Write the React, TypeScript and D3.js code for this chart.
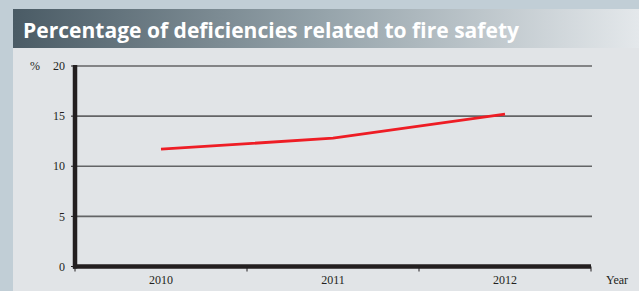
import * as d3 from 'd3';

const years = ['2010', '2011', '2012'];
const percentages = [11.7, 12.8, 15.2];
const yTicks = [0, 5, 10, 15, 20];

const W = 639;
const H = 291;
const margin = { left: 75, right: 48, top: 66, bottom: 24.5 };
const serif = "'Liberation Serif', 'Times New Roman', serif";

const App = () => {
  const x = d3.scaleBand().domain(years).range([margin.left, W - margin.right]).padding(0);
  const y = d3.scaleLinear().domain([0, 20]).range([H - margin.bottom, margin.top]);

  const line = d3.line<number>()
    .x((_, i) => (x(years[i]) as number) + x.bandwidth() / 2)
    .y((d) => y(d));

  const xEnd = W - margin.right;
  const tickXs = years.map((yr) => x(yr) as number).concat([xEnd]);

  return (
    <svg width={W} height={H} style={{ position: 'absolute', left: 0, top: 0, display: 'block' }}>
      <defs>
        <linearGradient id="hdr" x1="0" x2="1" y1="0" y2="0">
          <stop offset="0" stopColor="#4a5b65" />
          <stop offset="0.5" stopColor="#96a4ab" />
          <stop offset="1" stopColor="#e4e8eb" />
        </linearGradient>
      </defs>
      <rect x={0} y={0} width={W} height={H} fill="#c1ced6" />
      <rect x={13} y={9} width={W - 13} height={H - 9} fill="#e1e4e7" />
      <rect x={13} y={9} width={W - 13} height={39} fill="url(#hdr)" />
      <text x={23} y={38} fill="#ffffff" fontFamily="'Open Sans', sans-serif" fontWeight="bold" fontSize={21}
        textLength={496} lengthAdjust="spacingAndGlyphs">
        Percentage of deficiencies related to fire safety
      </text>

      {/* grid lines */}
      {yTicks.filter((t) => t > 0).map((t) => (
        <line key={t} x1={margin.left} x2={xEnd + 1} y1={y(t)} y2={y(t)} stroke="#636466" strokeWidth={1.6} />
      ))}

      {/* y ticks + labels */}
      {yTicks.map((t) => (
        <g key={t}>
          <line x1={71} x2={75} y1={y(t)} y2={y(t)} stroke="#231f20" strokeWidth={1} />
          <text x={65} y={y(t)} dy="0.35em" textAnchor="end" fontFamily={serif} fontSize={12} fill="#231f20">
            {t}
          </text>
        </g>
      ))}
      <text x={30} y={y(20)} dy="0.35em" fontFamily={serif} fontSize={12} fill="#231f20">%</text>

      {/* x axis ticks */}
      {tickXs.map((tx, i) => (
        <line key={i} x1={tx} x2={tx} y1={y(0)} y2={y(0) + 5} stroke="#231f20" strokeWidth={1} />
      ))}
      {years.map((yr) => (
        <text key={yr} x={(x(yr) as number) + x.bandwidth() / 2} y={y(0) + 17} textAnchor="middle"
          fontFamily={serif} fontSize={12} fill="#231f20">
          {yr}
        </text>
      ))}
      <text x={617} y={y(0) + 17} textAnchor="middle" fontFamily={serif} fontSize={12} fill="#231f20">Year</text>

      {/* axes */}
      <line x1={margin.left} x2={margin.left} y1={y(20) - 1} y2={y(0) + 2} stroke="#231f20" strokeWidth={4.5} />
      <line x1={margin.left - 2} x2={xEnd} y1={y(0)} y2={y(0)} stroke="#231f20" strokeWidth={4.5} />

      {/* data line */}
      <path d={line(percentages) ?? ''} fill="none" stroke="#ee1d25" strokeWidth={2.8} />
    </svg>
  );
};

export default App;
